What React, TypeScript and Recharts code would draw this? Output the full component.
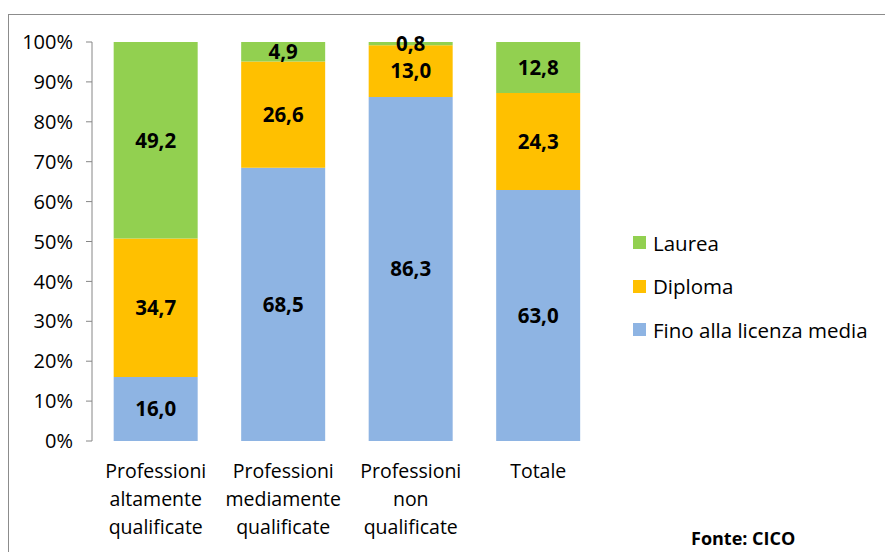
import React from 'react';
import { BarChart, Bar, XAxis, YAxis, LabelList } from 'recharts';

const categories = [
  'Professioni altamente qualificate',
  'Professioni mediamente qualificate',
  'Professioni non qualificate',
  'Totale',
];
const finoLicenzaMedia = [16.0, 68.5, 86.3, 63.0];
const diploma = [34.7, 26.6, 13.0, 24.3];
const laurea = [49.2, 4.9, 0.8, 12.8];
const yTicks = [0, 0.1, 0.2, 0.3, 0.4, 0.5, 0.6, 0.7, 0.8, 0.9, 1];
const boundaryTicks = [0, 1, 2, 3, 4];
const seriesKeys = ['fino', 'diploma', 'laurea'];
const seriesNames = ['Fino alla licenza media', 'Diploma', 'Laurea'];
const seriesColors = ['#8EB4E3', '#FFC000', '#92D050'];
const sourceText = 'Fonte: CICO';

const data = categories.map((c, i) => ({
  cat: c,
  fino: finoLicenzaMedia[i],
  diploma: diploma[i],
  laurea: laurea[i],
}));

const FONT = '"Open Sans", "Noto Sans", sans-serif';
const AXIS = '#868686';

const fmt = (v: any) => Number(v).toFixed(1).replace('.', ',');

const CatTick = (props: any) => {
  const { x, y, payload } = props;
  const lines = String(payload.value).split(' ');
  return (
    <g>
      {lines.map((l, i) => (
        <text
          key={i}
          x={x}
          y={y + 37 + i * 28}
          textAnchor="middle"
          fill="#000"
          fontSize={19.5}
          fontFamily={FONT}
        >
          {l}
        </text>
      ))}
    </g>
  );
};

export default function App() {
  const legendOrder = [2, 1, 0];
  return (
    <div
      style={{
        position: 'fixed',
        left: 0,
        top: 0,
        width: 885,
        height: 552,
        overflow: 'hidden',
        background: '#fff',
        fontFamily: FONT,
      }}
    >
      <div
        style={{
          position: 'absolute',
          left: 8,
          top: 14,
          width: 1000,
          height: 1000,
          border: '1px solid #8c8c8c',
        }}
      />
      <div style={{ position: 'absolute', left: 0, top: 0 }}>
        <BarChart
          width={885}
          height={552}
          data={data}
          stackOffset="expand"
          barCategoryGap="17%"
          margin={{ top: 42, right: 283, bottom: 0, left: 0 }}
        >
          <XAxis
            xAxisId="grid"
            type="number"
            domain={[0, 4]}
            ticks={boundaryTicks}
            height={0}
            tick={false}
            tickSize={6}
            axisLine={{ stroke: AXIS }}
            tickLine={{ stroke: AXIS }}
          />
          <XAxis
            xAxisId="cat"
            dataKey="cat"
            type="category"
            height={111}
            axisLine={false}
            tickLine={false}
            tickSize={0}
            tickMargin={0}
            interval={0}
            tick={<CatTick />}
          />
          <YAxis
            type="number"
            domain={[0, 1]}
            ticks={yTicks}
            width={92}
            tickSize={6}
            tickMargin={13}
            axisLine={{ stroke: AXIS }}
            tickLine={{ stroke: AXIS }}
            tick={{ fill: '#000', fontSize: 20, fontFamily: FONT }}
            tickFormatter={(v: number) => `${Math.round(v * 100)}%`}
          />
          {seriesKeys.map((k, i) => (
            <Bar
              key={k}
              xAxisId="cat"
              dataKey={k}
              name={seriesNames[i]}
              stackId="a"
              fill={seriesColors[i]}
              isAnimationActive={false}
            >
              <LabelList
                dataKey={k}
                position="center"
                formatter={fmt}
                fill="#000"
                fontSize={20.5}
                fontWeight="bold"
                fontFamily={FONT}
              />
            </Bar>
          ))}
        </BarChart>
      </div>
      <div style={{ position: 'absolute', left: 633, top: 221 }}>
        {legendOrder.map((i) => (
          <div
            key={seriesKeys[i]}
            style={{ display: 'flex', alignItems: 'center', height: 43.5, fontSize: 20.5, color: '#000' }}
          >
            <span
              style={{
                display: 'inline-block',
                width: 13,
                height: 13,
                background: seriesColors[i],
                marginRight: 7,
              }}
            />
            <span>{seriesNames[i]}</span>
          </div>
        ))}
      </div>
      <div
        style={{
          position: 'absolute',
          left: 691,
          top: 526,
          fontSize: 18,
          fontWeight: 'bold',
          color: '#000',
          whiteSpace: 'nowrap',
        }}
      >
        {sourceText}
      </div>
    </div>
  );
}
